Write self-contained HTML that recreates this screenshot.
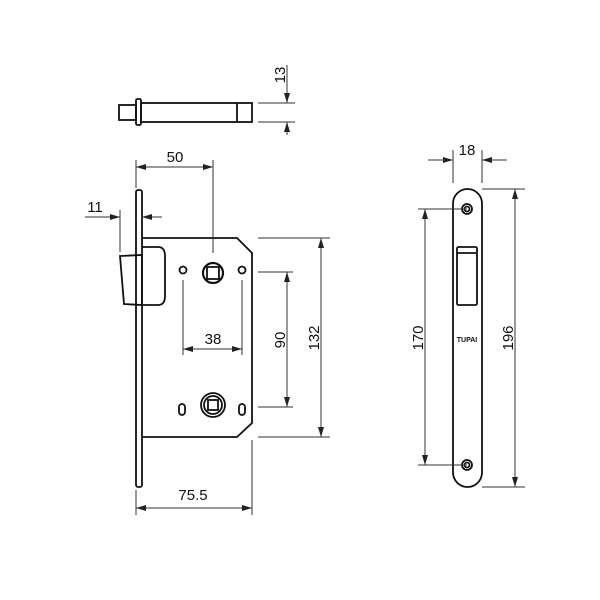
<!DOCTYPE html>
<html><head><style>body{margin:0;background:#fff}svg{display:block}</style></head><body>
<svg width="600" height="600" viewBox="0 0 600 600" xmlns="http://www.w3.org/2000/svg" font-family="Liberation Sans, sans-serif">
<defs>
<marker id="a" viewBox="0 0 10 6" refX="10" refY="3" markerWidth="10" markerHeight="6" markerUnits="userSpaceOnUse" orient="auto-start-reverse"><path d="M0,0L10,3L0,6z" fill="#222"/></marker>
</defs>
<rect width="600" height="600" fill="#fff"/>
<g fill="none" stroke="#111" stroke-width="1.8">
<rect x="119" y="105" width="17" height="15"/>
<rect x="136" y="99" width="5" height="26" rx="1.5"/>
<rect x="141" y="103" width="111" height="19"/>
<line x1="237" y1="103" x2="237" y2="122"/>
<rect x="136" y="190" width="6" height="297" rx="2"/>
<path d="M142,238 L237,238 L252,253 L252,423 L237,437 L142,437"/>
<path d="M120,256 L142,255 L142,305 L124,304 Z"/>
<path d="M142,247 L158,247 Q165,247 165,256 L165,296 Q165,305 158,305 L142,305"/>
<circle cx="213" cy="273" r="10" stroke-width="2.2"/>
<rect x="207" y="267" width="12" height="12"/>
<circle cx="183" cy="270" r="3.5"/>
<circle cx="242" cy="270" r="3.5"/>
<circle cx="213" cy="405" r="12" stroke-width="1.8"/>
<circle cx="213" cy="405" r="9"/>
<rect x="208" y="400" width="10" height="10"/>
<rect x="179" y="404" width="6" height="11" rx="3"/>
<rect x="239" y="404" width="6" height="11" rx="3"/>
<rect x="453" y="189" width="29" height="298" rx="14.5"/>
<circle cx="467" cy="209" r="5"/><circle cx="467" cy="209" r="2.5"/>
<circle cx="467" cy="465" r="5"/><circle cx="467" cy="465" r="2.5"/>
<rect x="457" y="247" width="20" height="58" rx="1.5"/>
<line x1="457" y1="253" x2="477" y2="253"/>
</g>
<text x="467" y="342" font-size="7" font-weight="bold" text-anchor="middle" fill="#111">TUPAI</text>
<g stroke="#333" stroke-width="1" fill="none">
<line x1="258" y1="103" x2="295" y2="103"/><line x1="258" y1="122" x2="295" y2="122"/>
<line x1="287" y1="65" x2="287" y2="103" marker-end="url(#a)"/>
<line x1="287" y1="135" x2="287" y2="122" marker-end="url(#a)"/>
<line x1="136" y1="160" x2="136" y2="188"/><line x1="213" y1="160" x2="213" y2="253"/>
<line x1="136" y1="167" x2="213" y2="167" marker-start="url(#a)" marker-end="url(#a)"/>
<line x1="120" y1="210" x2="120" y2="252"/>
<line x1="85" y1="217" x2="120" y2="217" marker-end="url(#a)"/>
<line x1="162" y1="217" x2="142" y2="217" marker-end="url(#a)"/>
<line x1="183" y1="280" x2="183" y2="355"/><line x1="242" y1="280" x2="242" y2="355"/>
<line x1="183" y1="349" x2="242" y2="349" marker-start="url(#a)" marker-end="url(#a)"/>
<line x1="258" y1="272" x2="293" y2="272"/><line x1="258" y1="407" x2="293" y2="407"/>
<line x1="287" y1="272" x2="287" y2="407" marker-start="url(#a)" marker-end="url(#a)"/>
<line x1="258" y1="238" x2="330" y2="238"/><line x1="258" y1="437" x2="330" y2="437"/>
<line x1="321" y1="238" x2="321" y2="437" marker-start="url(#a)" marker-end="url(#a)"/>
<line x1="136" y1="490" x2="136" y2="515"/><line x1="252" y1="440" x2="252" y2="515"/>
<line x1="136" y1="508" x2="252" y2="508" marker-start="url(#a)" marker-end="url(#a)"/>
<line x1="453" y1="150" x2="453" y2="183"/><line x1="482" y1="150" x2="482" y2="183"/>
<line x1="428" y1="160" x2="453" y2="160" marker-end="url(#a)"/>
<line x1="507" y1="160" x2="482" y2="160" marker-end="url(#a)"/>
<line x1="418" y1="209" x2="467" y2="209"/><line x1="418" y1="465" x2="467" y2="465"/>
<line x1="425" y1="209" x2="425" y2="465" marker-start="url(#a)" marker-end="url(#a)"/>
<line x1="482" y1="189" x2="525" y2="189"/><line x1="482" y1="487" x2="525" y2="487"/>
<line x1="515" y1="189" x2="515" y2="487" marker-start="url(#a)" marker-end="url(#a)"/>
</g>
<g fill="#111" font-size="15">
<text x="175" y="162" text-anchor="middle">50</text>
<text x="95" y="212" text-anchor="middle">11</text>
<text x="213" y="344" text-anchor="middle">38</text>
<text x="193" y="500" text-anchor="middle">75.5</text>
<text x="467" y="155" text-anchor="middle">18</text>
<text transform="translate(285,75) rotate(-90)" text-anchor="middle">13</text>
<text transform="translate(285,340) rotate(-90)" text-anchor="middle">90</text>
<text transform="translate(319,338) rotate(-90)" text-anchor="middle">132</text>
<text transform="translate(423,338) rotate(-90)" text-anchor="middle">170</text>
<text transform="translate(513,338) rotate(-90)" text-anchor="middle">196</text>
</g>
</svg>
</body></html>
